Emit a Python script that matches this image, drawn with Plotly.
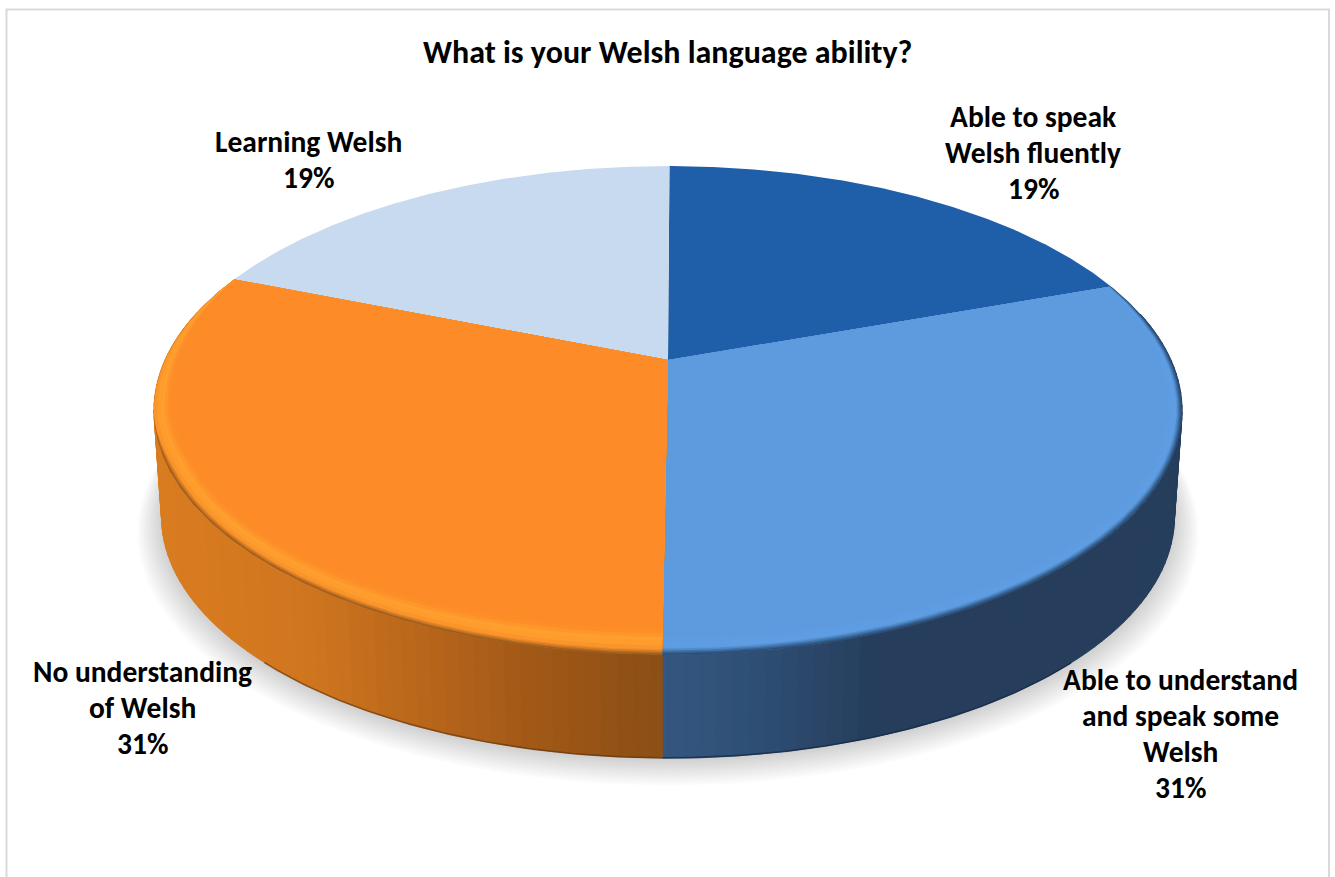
import numpy as np
import plotly.graph_objects as go

# ---- data ----
title_text = "What is your Welsh language ability?"
categories = ["Able to speak Welsh fluently", "Able to understand and speak some Welsh",
              "No understanding of Welsh", "Learning Welsh"]
label_lines = [["Able to speak", "Welsh fluently"],
               ["Able to understand", "and speak some", "Welsh"],
               ["No understanding", "of Welsh"],
               ["Learning Welsh"]]
values = [19.49, 30.6, 30.9, 19.01]
top_colors = ["#1f5ea8", "#5d9ade", "#fd8b28", "#c8daf0"]
label_centers = [(1033, 117), (1180, 680), (142, 672), (308, 142)]
label_step = 36

# ---- projection of the tilted disc ----
CX, CY = 668.0, 360.0
RX, A, C = 503.0, 234.0, 0.2065
BOTTOM_SCALE, BOTTOM_DROP = 0.985, 107.4
START_DEG = 0.2


def project(theta, r=1.0, scale=1.0, drop=0.0):
    u, v = r * np.sin(theta), r * np.cos(theta)
    w = 1 + C * v
    return CX + scale * RX * u / w, CY + drop - scale * A * v / w


def hex2rgb(h):
    return np.array([int(h[i:i + 2], 16) for i in (1, 3, 5)], float)


def rgb(c):
    return "rgb(%d,%d,%d)" % tuple(int(round(x)) for x in c)


def ramp(x, stops):
    xs = [s[0] for s in stops]
    cs = np.array([hex2rgb(s[1]) for s in stops])
    return [np.interp(x, xs, cs[:, i]) for i in range(3)]


fig = go.Figure()


def poly(x, y, color, line=None):
    x, y = np.r_[x, x[0]], np.r_[y, y[0]]
    fig.add_trace(go.Scatter(
        x=np.round(x, 2), y=np.round(y, 2), mode="lines", fill="toself", fillcolor=color,
        line=dict(color=line or "rgba(0,0,0,0)", width=1 if line else 0),
        hoverinfo="skip", showlegend=False))


def stroke(x, y, color, width):
    fig.add_trace(go.Scatter(x=np.round(x, 2), y=np.round(y, 2), mode="lines",
                             line=dict(color=color, width=width),
                             hoverinfo="skip", showlegend=False))


# slice bounds from the values
total = sum(values)
edges = np.radians(START_DEG) + np.concatenate([[0], np.cumsum(values)]) / total * 2 * np.pi

# soft cast shadow
t_all = np.linspace(0, 2 * np.pi, 240)
for s in np.linspace(1.032, 0.985, 12):
    sx, sy = project(t_all, scale=s, drop=121 - (1.032 - s) * 250)
    poly(sx, sy, "rgba(0,0,0,0.014)")

# side wall, front part only
blue_wall = [(662, "#35577f"), (760, "#2e4e74"), (870, "#263e5c"), (1200, "#263e5c")]
orange_wall = [(150, "#da7c20"), (300, "#d0761f"), (420, "#b8661b"), (520, "#a35a17"), (662, "#8b4e15")]
wall_ramps = {1: blue_wall, 2: orange_wall}
for idx, stops in wall_ramps.items():
    a0, a1 = edges[idx], edges[idx + 1]
    ts = np.radians(np.arange(0, 361, 1.5)) + edges[0]
    ts = np.concatenate([[a0], ts[(ts > a0) & (ts < a1)], [a1]])
    for t0, t1 in zip(ts[:-1], ts[1:]):
        if np.cos((t0 + t1) / 2) > 0.2:
            continue
        seg = np.array([t0, t1])
        xt, yt = project(seg)
        xb, yb = project(seg, scale=BOTTOM_SCALE, drop=BOTTOM_DROP)
        col = rgb(ramp((xt.mean()), stops))
        poly(np.r_[xt, xb[::-1]], np.r_[yt, yb[::-1]], col, line=col)

# dark lower lip of the wall
for idx, col in {1: "rgba(20,40,70,0.75)", 2: "rgba(90,45,5,0.55)"}.items():
    seg = np.linspace(edges[idx], edges[idx + 1], 160)
    seg = seg[np.cos(seg) < -0.72]
    xb, yb = project(seg, scale=BOTTOM_SCALE, drop=BOTTOM_DROP)
    stroke(xb, yb, col, 1.6)


def smooth(c, start, end):
    s = np.clip((start - c) / (start - end), 0, 1)
    return s * s * (3 - 2 * s)


def px_per_r(t):
    v = np.cos(t)
    return np.hypot(514 * np.sin(t), np.where(v < 0, 295, 194) * v)


def wedge(a0, a1, color, dark_inset=0.0, light_inset=0.0, dark_from=(0.0, -0.3)):
    t = np.linspace(a0, a1, 200)
    c = np.cos(t)
    inset = dark_inset * smooth(c, *dark_from) + light_inset * smooth(c, 0.5, -0.2)
    ex, ey = project(t, r=1 - inset / px_per_r(t))
    poly(np.r_[CX, ex, CX], np.r_[CY, ey, CY], color)


# bevel bands, outermost first: (dark part inset px, light part inset px, colour)
bevels = {
    1: [(0, 0, "#2b4e78"), (1.2, 0, "#34608f"), (2.4, 0, "#4274ac"), (3.6, 0, "#5088c8"),
        (4.8, 0, "#5b97da"), (5.6, 0, "#5f9de2"), (5.6, 5, "#5e9be0"), (5.6, 9, "#5d9ade")],
    2: [(0, 0, "#9d5d1c"), (1.2, 0, "#bb6d20"), (2.4, 0, "#d97e25"), (3.6, 0, "#f08a28"),
        (4.4, 0, "#f9952b"), (4.4, 3, "#fe9c2d"), (4.4, 7, "#ff9f2e"), (4.4, 10, "#fe962b"),
        (4.4, 13, "#fd8f29"), (4.4, 16, "#fd8b28")],
}
dark_ranges = {1: (0.55, 0.1), 2: (-0.2, -0.45)}
for i in (0, 3):
    wedge(edges[i], edges[i + 1], top_colors[i])
for i in (1, 2):
    for d, l, col in bevels[i]:
        wedge(edges[i], edges[i + 1], col, d, l, dark_ranges[i])

# frame
shapes = [dict(type="path", path="M 6.5 877 L 6.5 9.5 L 1329 9.5 L 1329 877",
               line=dict(color="#d9d9d9", width=2), xref="x", yref="y", layer="below")]

# text
FONT = "Carlito, Lato, sans-serif"
ann = [dict(x=667, y=52, text=title_text, showarrow=False, xanchor="center", yanchor="middle",
            font=dict(family=FONT, size=32, color="#000000"))]
for lines, v, (lx, ly) in zip(label_lines, values, label_centers):
    for j, txt in enumerate(lines + ["%d%%" % round(v)]):
        ann.append(dict(x=lx, y=ly + j * label_step, text=txt, showarrow=False,
                        xanchor="center", yanchor="middle",
                        font=dict(family=FONT, size=29.5, color="#000000")))
for a in ann:
    a["text"] = "<b>%s</b>" % a["text"]

fig.update_layout(
    width=1335, height=877, margin=dict(l=0, r=0, t=0, b=0),
    paper_bgcolor="white", plot_bgcolor="white", showlegend=False,
    xaxis=dict(range=[0, 1335], visible=False, fixedrange=True),
    yaxis=dict(range=[877, 0], visible=False, fixedrange=True),
    shapes=shapes, annotations=ann)

fig.write_html("out.html", config=dict(displayModeBar=False),
               post_script="document.body.style.margin='0';document.body.style.overflow='hidden';")
